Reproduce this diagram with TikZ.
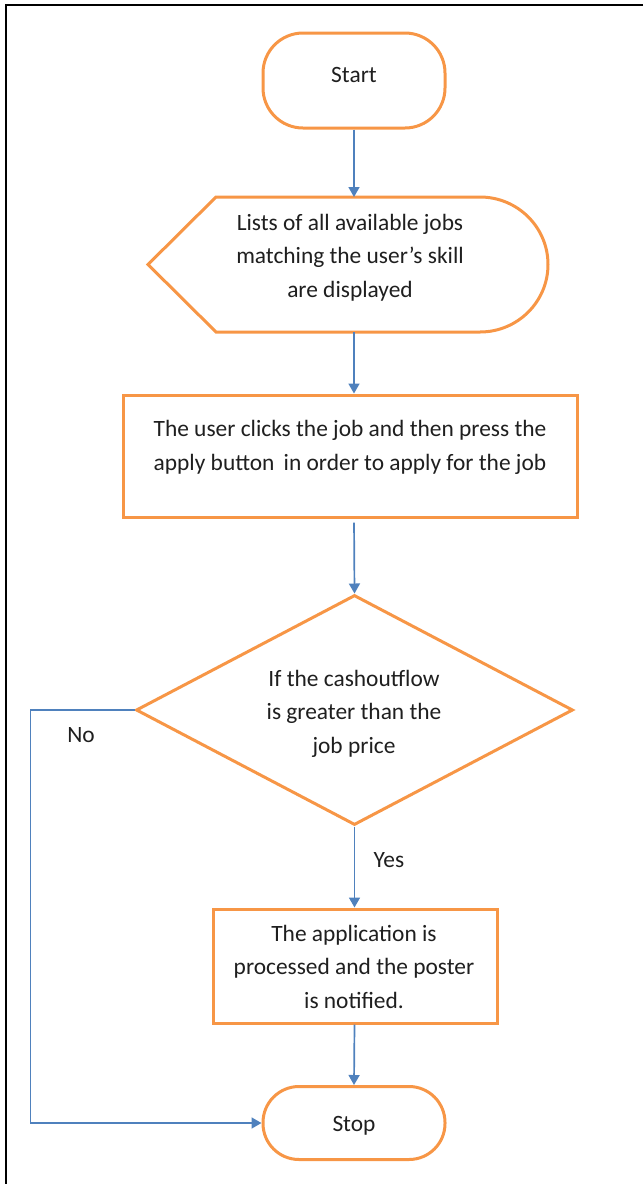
\documentclass[tikz,border=0pt]{standalone}
\usepackage{fontspec}
\setmainfont{Carlito}
\usetikzlibrary{shapes.geometric,arrows.meta}
\definecolor{flowor}{RGB}{247,150,70}
\definecolor{flowbl}{RGB}{79,129,189}
\tikzset{
  shapeline/.style={draw=flowor, line width=3pt, fill=white},
  termbox/.style={shapeline, rectangle, minimum width=182pt, inner sep=0pt},
  procbox/.style={shapeline, rectangle, inner sep=0pt},
  conn/.style={draw=flowbl, line width=1.7pt, -{Triangle[length=10pt,width=11pt]}},
  txt/.style={font=\fontsize{23.4}{33.3}\selectfont, align=center, anchor=base, inner sep=0pt, text=black!88},
  framel/.style={draw=black, line width=2pt}
}
\begin{document}
\begin{tikzpicture}[x=1pt,y=-1pt]
\useasboundingbox (0,0) rectangle (643,1184);
% frame (only top and left edges visible)
\coordinate (fa) at (643,4.5);
\coordinate (fb) at (5.5,4.5);
\coordinate (fc) at (5.5,1184);
\draw[framel] (fa) -- (fb) -- (fc);

% start
\node[termbox, rounded corners=40pt, minimum height=95pt] (start) at (354,80.5) {};
\node[txt] (tstart) at (354,82) {Start};

% display shape
\coordinate (dispN) at (354,197);
\coordinate (dispS) at (354,332);
\draw[shapeline, line join=miter] (148,264.5) -- (216,197) -- (480,197)
   arc[start angle=90, end angle=-90, x radius=68pt, y radius=67.5pt] -- (216,332) -- cycle;
\node[txt] (tdisp) at (350,297) {Lists of all available jobs\\matching the user’s skill\\are displayed};

% process
\node[procbox, minimum width=454pt, minimum height=122pt] (proc) at (350,456) {};
\node[txt] (tproc) at (350,470) {The user clicks the job and then press the\\apply button \,in order to apply for the job};

% decision
\node[shapeline, diamond, minimum width=437pt, minimum height=230pt, inner sep=0pt] (dec) at (354.5,710) {};
\node[txt] (tdec) at (354,753) {If the cashoutflow\\is greater than the\\job price};

% application processed
\node[procbox, minimum width=284pt, minimum height=114pt] (app) at (355,966) {};
\node[txt] (tapp) at (354,1008) {The application is\\processed and the poster\\is notified.};

% stop
\node[termbox, rounded corners=36pt, minimum height=73pt] (stop) at (354,1123) {};
\node[txt] (tstop) at (354,1131) {Stop};

% connectors
\draw[conn] (start.south) -- (dispN);
\draw[conn] (dispS) -- (proc.north -| dispS);
\draw[conn, shorten <=4pt] (proc.south -| dispS) -- (dec.north);
\draw[conn] (dec.south) -- (app.north -| dec.south);
\draw[conn] (app.south -| dec.south) -- (stop.north);
\coordinate (nocorner) at (30.5,710);
\draw[conn] (dec.west) -- (nocorner) |- (stop.west);

\node[txt] (lno) at (81,742) {No};
\node[txt] (lyes) at (389,867) {Yes};
\end{tikzpicture}
\end{document}
